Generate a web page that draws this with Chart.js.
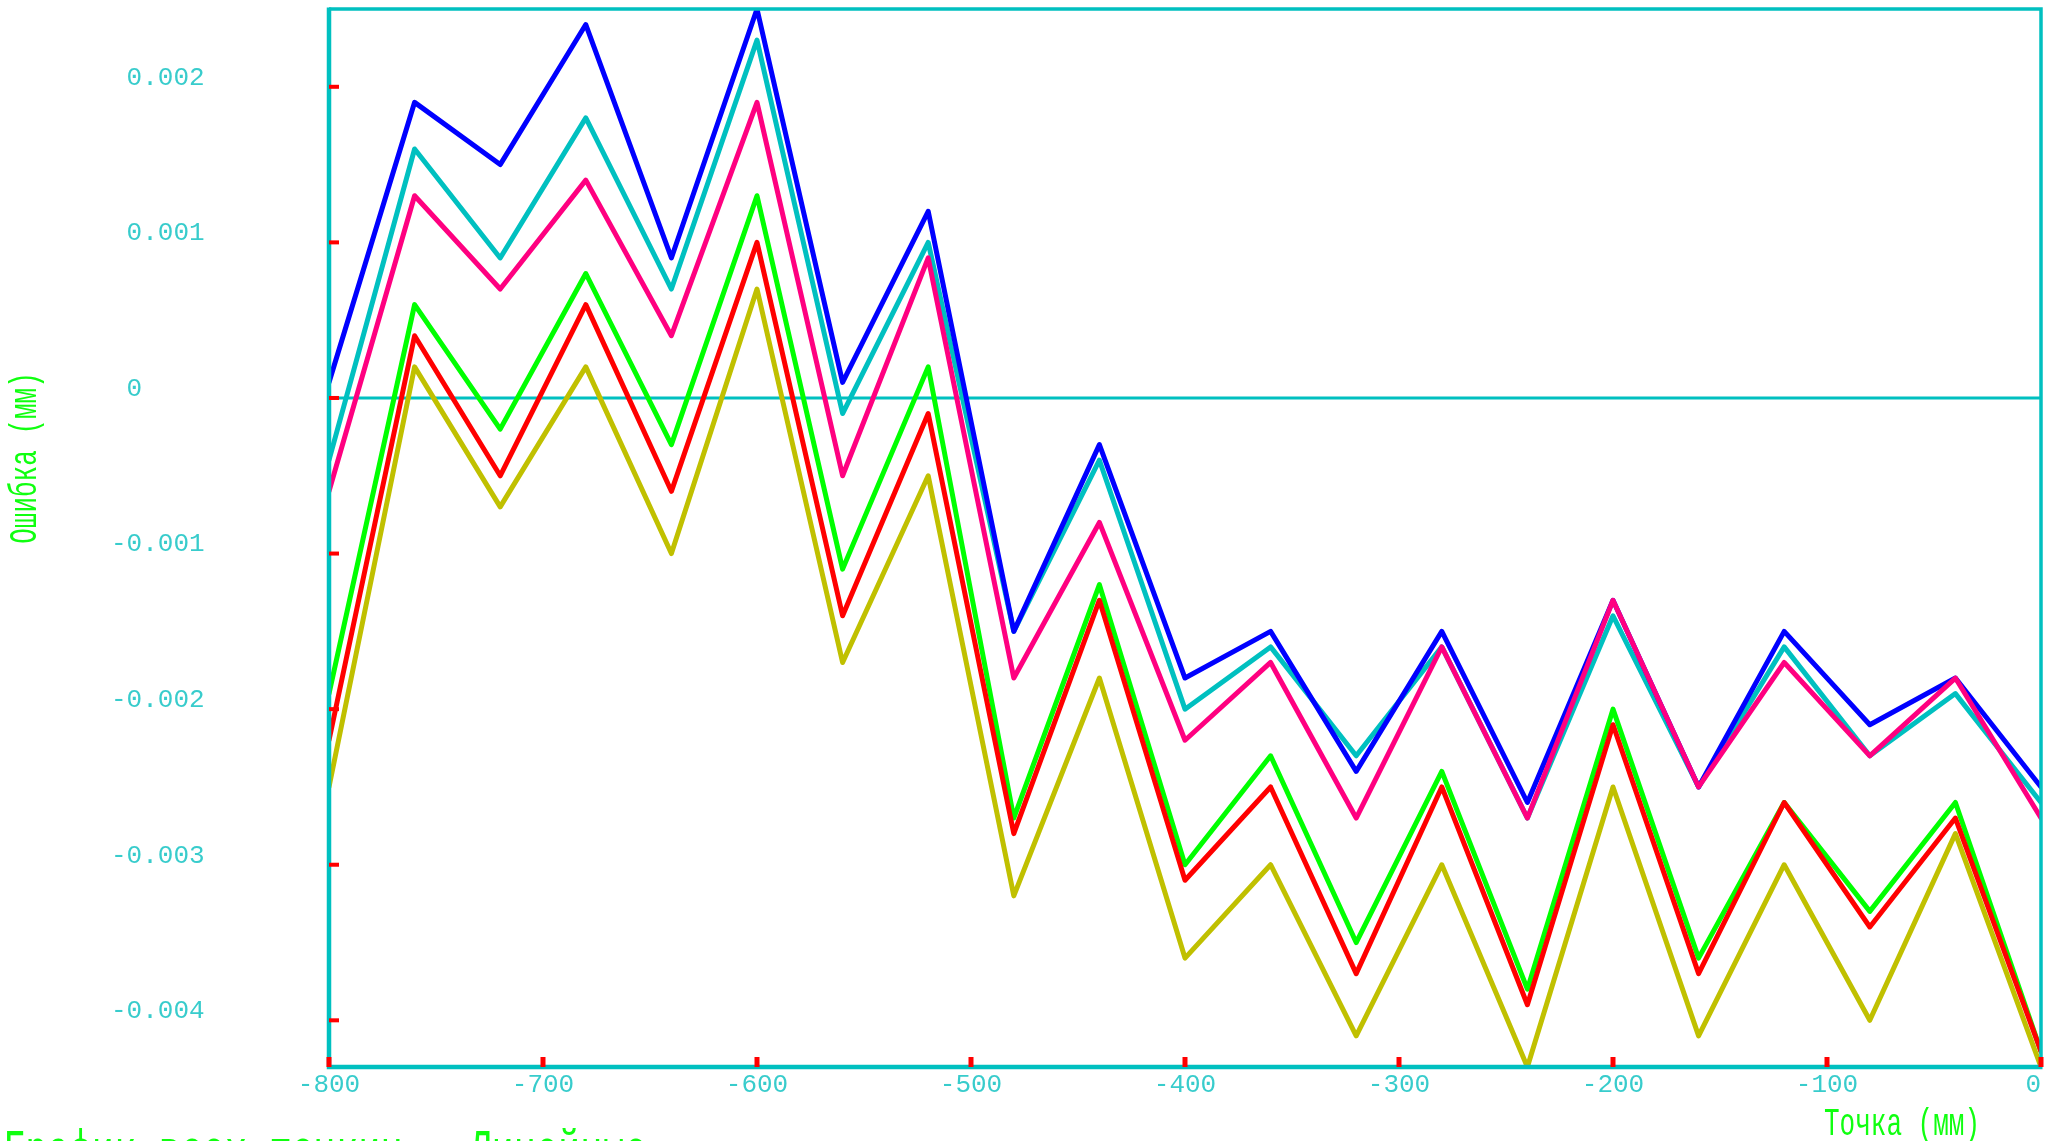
<!DOCTYPE html>
<html>
<head>
<meta charset="utf-8">
<script src="https://cdn.jsdelivr.net/npm/chart.js@4.4.1/dist/chart.umd.min.js"></script>
<style>
  html, body { margin: 0; padding: 0; background: #fff; overflow: hidden; }
  #wrap { width: 2056px; height: 1141px; position: relative; }
</style>
</head>
<body>
<div id="wrap"><canvas id="errChart"></canvas></div>
<script>
// measurement points (mm)
const points = [-800, -760, -720, -680, -640, -600, -560, -520, -480, -440, -400,
                -360, -320, -280, -240, -200, -160, -120, -80, -40, 0];

// error per run (mm)
const blueRun  = [0.0001, 0.0019, 0.0015, 0.0024, 0.0009, 0.0025, 0.0001, 0.0012, -0.0015, -0.0003, -0.0018,
                  -0.0015, -0.0024, -0.0015, -0.0026, -0.0013, -0.0025, -0.0015, -0.0021, -0.0018, -0.0025];
const cyanRun  = [-0.0004, 0.0016, 0.0009, 0.0018, 0.0007, 0.0023, -0.0001, 0.0010, -0.0015, -0.0004, -0.0020,
                  -0.0016, -0.0023, -0.0016, -0.0027, -0.0014, -0.0025, -0.0016, -0.0023, -0.0019, -0.0026];
const pinkRun  = [-0.0006, 0.0013, 0.0007, 0.0014, 0.0004, 0.0019, -0.0005, 0.0009, -0.0018, -0.0008, -0.0022,
                  -0.0017, -0.0027, -0.0016, -0.0027, -0.0013, -0.0025, -0.0017, -0.0023, -0.0018, -0.0027];
const greenRun = [-0.0019, 0.0006, -0.0002, 0.0008, -0.0003, 0.0013, -0.0011, 0.0002, -0.0027, -0.0012, -0.0030,
                  -0.0023, -0.0035, -0.0024, -0.0038, -0.0020, -0.0036, -0.0026, -0.0033, -0.0026, -0.0042];
const redRun   = [-0.0022, 0.0004, -0.0005, 0.0006, -0.0006, 0.0010, -0.0014, -0.0001, -0.0028, -0.0013, -0.0031,
                  -0.0025, -0.0037, -0.0025, -0.0039, -0.0021, -0.0037, -0.0026, -0.0034, -0.0027, -0.0042];
const oliveRun = [-0.0025, 0.0002, -0.0007, 0.0002, -0.0010, 0.0007, -0.0017, -0.0005, -0.0032, -0.0018, -0.0036,
                  -0.0030, -0.0041, -0.0030, -0.0043, -0.0025, -0.0041, -0.0030, -0.0040, -0.0028, -0.0043];

// axis ticks
const xTicks = [-800, -700, -600, -500, -400, -300, -200, -100, 0];
const yTicks = [-0.004, -0.003, -0.002, -0.001, 0, 0.001, 0.002];
const yMin = -0.0043, yMax = 0.0025;

const AXIS = '#00c0c0';
const LABEL = '#38cccc';
const TITLE = '#10ff10';
const MONO = '"Liberation Mono", "DejaVu Sans Mono", monospace';

function toXY(arr) {
  return points.map((x, i) => ({ x: x, y: arr[i] }));
}

function yLabel(v) {
  if (Math.abs(v) < 1e-9) return ' 0';
  const s = v.toFixed(3);
  return v < 0 ? s : ' ' + s;
}

// last x label is pulled inside the frame
function xLabel(v) {
  return v === 0 ? '0 ' : String(v);
}

// frame, zero line, red tick marks and titles
const framePlugin = {
  id: 'frame',
  beforeDatasetsDraw(chart) {
    const { ctx, chartArea: a, scales: { y } } = chart;
    const y0 = y.getPixelForValue(0);
    ctx.save();
    ctx.strokeStyle = AXIS;
    ctx.lineWidth = 3;
    ctx.beginPath();
    ctx.moveTo(a.left, y0);
    ctx.lineTo(a.right, y0);
    ctx.stroke();
    ctx.restore();
  },
  afterDraw(chart) {
    const { ctx, chartArea: a, scales: { x, y } } = chart;
    ctx.save();
    ctx.strokeStyle = AXIS;
    ctx.lineWidth = 3.5;
    ctx.beginPath();
    ctx.moveTo(a.left, a.top);
    ctx.lineTo(a.right, a.top);
    ctx.lineTo(a.right, a.bottom);
    ctx.stroke();
    ctx.lineWidth = 4.5;
    ctx.beginPath();
    ctx.moveTo(a.left, a.top - 1.5);
    ctx.lineTo(a.left, a.bottom);
    ctx.lineTo(a.right + 1.5, a.bottom);
    ctx.stroke();

    ctx.fillStyle = '#ff0000';
    yTicks.forEach(v => {
      const py = y.getPixelForValue(v);
      ctx.fillRect(a.left, py - 2, 10, 4);
    });
    xTicks.forEach(v => {
      const px = x.getPixelForValue(v);
      ctx.fillRect(px - 2.5, a.bottom - 10, 5, 10);
    });

    ctx.fillStyle = TITLE;
    ctx.font = '26px ' + MONO;
    ctx.textAlign = 'center';
    ctx.textBaseline = 'middle';
    ctx.save();
    ctx.translate(26, 458);
    ctx.rotate(-Math.PI / 2);
    ctx.scale(1, 1.5);
    ctx.fillText('Ошибка (мм)', 0, 0);
    ctx.restore();

    ctx.save();
    ctx.translate(1902, 1125);
    ctx.scale(1, 1.5);
    ctx.fillText('Точка (мм)', 0, 0);
    ctx.restore();

    ctx.save();
    ctx.font = '37px ' + MONO;
    ctx.textAlign = 'left';
    ctx.textBaseline = 'alphabetic';
    ctx.translate(3, 1130);
    ctx.scale(1, 1.5);
    ctx.fillText('График всех точкин - Линейные', 0, 25);
    ctx.restore();
    ctx.restore();
  }
};

const ctx = document.getElementById('errChart').getContext('2d');
new Chart(ctx, {
  type: 'line',
  data: {
    datasets: [
      { data: toXY(pinkRun),  borderColor: '#ff0080' },
      { data: toXY(redRun),   borderColor: '#ff0000' },
      { data: toXY(blueRun),  borderColor: '#0000ff' },
      { data: toXY(cyanRun),  borderColor: '#00c0c0' },
      { data: toXY(greenRun), borderColor: '#00ff00' },
      { data: toXY(oliveRun), borderColor: '#c0c000' }
    ]
  },
  options: {
    responsive: true,
    maintainAspectRatio: false,
    animation: false,
    layout: { padding: { left: 111, top: 9, right: 15, bottom: 0 } },
    plugins: { legend: { display: false }, tooltip: { enabled: false } },
    elements: {
      point: { radius: 0 },
      line: { tension: 0, borderWidth: 5, fill: false, borderJoinStyle: 'round', borderCapStyle: 'round' }
    },
    scales: {
      x: {
        type: 'linear',
        min: -800,
        max: 0,
        afterBuildTicks: s => { s.ticks = xTicks.map(v => ({ value: v })); },
        afterFit: s => { s.height = 74; s.paddingLeft = 0; s.paddingRight = 0; },
        grid: { display: false, drawTicks: false },
        border: { display: false },
        ticks: {
          color: LABEL,
          font: { family: MONO, size: 26 },
          padding: 3,
          maxRotation: 0,
          autoSkip: false,
          callback: v => xLabel(v)
        }
      },
      y: {
        min: yMin,
        max: yMax,
        afterBuildTicks: s => { s.ticks = yTicks.map(v => ({ value: v })); },
        afterFit: s => { s.width = 218; s.paddingTop = 0; s.paddingBottom = 0; },
        grid: { display: false, drawTicks: false },
        border: { display: false },
        ticks: {
          color: LABEL,
          font: { family: MONO, size: 26 },
          crossAlign: 'far',
          labelOffset: -9,
          autoSkip: false,
          callback: v => yLabel(v)
        }
      }
    }
  },
  plugins: [framePlugin]
});
</script>
</body>
</html>
